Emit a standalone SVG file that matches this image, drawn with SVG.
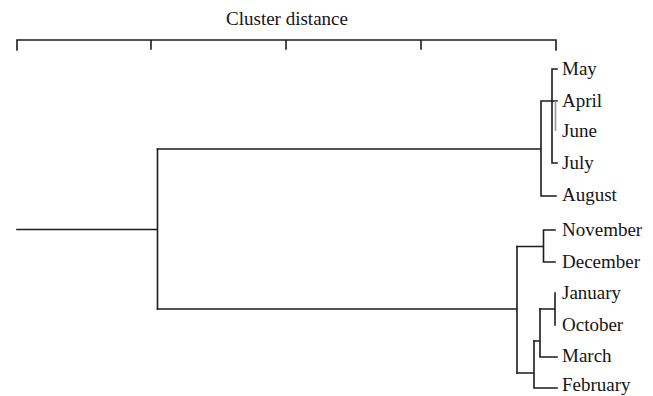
<svg xmlns="http://www.w3.org/2000/svg" width="653" height="396" viewBox="0 0 653 396">
  <style>
    .ln { fill: none; stroke: #1c1c1c; stroke-width: 1.6; stroke-linecap: square; }
    .faint { fill: none; stroke: #9a9a9a; stroke-width: 1.6; }
    .lbl { font-family: "Liberation Serif", "Times New Roman", serif; font-size: 19px; fill: #151515; }
  </style>
  <rect width="653" height="396" fill="#ffffff"/>

  <!-- distance scale -->
  <g id="axis">
    <text class="lbl" x="287" y="25" text-anchor="middle">Cluster distance</text>
    <path class="ln" d="M17 40 H556 M17 40 V50 M151 40 V49 M286 40 V49 M421 40 V49 M556 40 V50"/>
  </g>

  <!-- leaves -->
  <g id="leaf-may"><text class="lbl" x="562" y="75">May</text></g>
  <g id="leaf-april"><text class="lbl" x="562" y="107">April</text></g>
  <g id="leaf-june"><text class="lbl" x="562" y="137">June</text></g>
  <g id="leaf-july"><text class="lbl" x="562" y="169">July</text></g>
  <g id="leaf-august"><text class="lbl" x="562" y="201">August</text></g>
  <g id="leaf-november"><text class="lbl" x="562" y="236">November</text></g>
  <g id="leaf-december"><text class="lbl" x="562" y="268">December</text></g>
  <g id="leaf-january"><text class="lbl" x="562" y="299">January</text></g>
  <g id="leaf-october"><text class="lbl" x="562" y="331">October</text></g>
  <g id="leaf-march"><text class="lbl" x="562" y="362">March</text></g>
  <g id="leaf-february"><text class="lbl" x="562" y="391">February</text></g>

  <!-- dendrogram links -->
  <g id="connectors">
    <!-- root -->
    <path class="ln" d="M17 229.5 H157.5 M157.5 149 V309"/>
    <!-- summer cluster -->
    <path class="ln" d="M157.5 149 H541 M541 101 V196 M541 101 H557 M541 196 H556"/>
    <path class="ln" d="M552 69 V163 M552 69 H557 M552 163 H557"/>
    <path class="faint" d="M555.5 101 V131"/>
    <!-- winter cluster -->
    <path class="ln" d="M157.5 309 H517 M517 246.5 V373"/>
    <path class="ln" d="M517 246.5 H543.5 M543.5 230 V262 M543.5 230 H555 M543.5 262 H555"/>
    <path class="ln" d="M517 373 H534 M534 341 V388 M534 388 H557"/>
    <path class="ln" d="M534 341 H540 M540 309 V357 M540 357 H557"/>
    <path class="ln" d="M540 309 H555 M555 293 V325"/>
  </g>
</svg>
